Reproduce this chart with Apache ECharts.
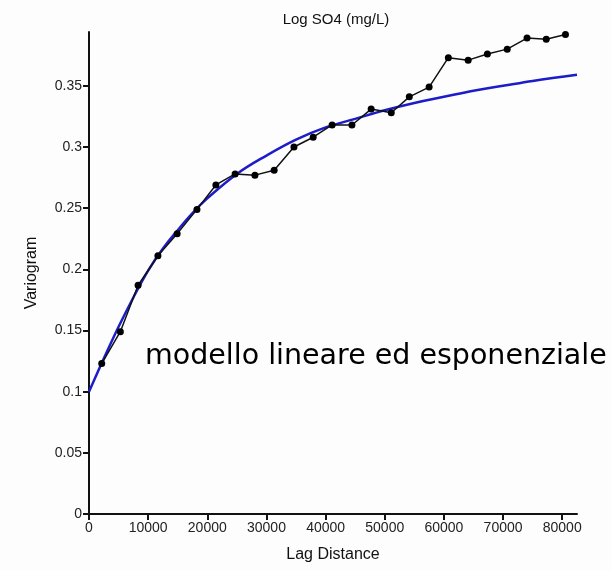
<!DOCTYPE html>
<html>
<head>
<meta charset="utf-8">
<title>Log SO4 (mg/L)</title>
<script src="https://cdn.jsdelivr.net/npm/echarts@6/dist/echarts.min.js"></script>
<style>
  html, body { margin: 0; padding: 0; background: #fdfdfd; }
  #chart { width: 612px; height: 570px; }
</style>
</head>
<body>
<div id="chart"></div>
<script>
// Experimental variogram: lag distance and semivariance
const lagDistance = [2150, 5300, 8300, 11650, 14900, 18250, 21450, 24700, 28050, 31300,
                     34650, 37900, 41100, 44450, 47700, 51100, 54150, 57500, 60750, 64100,
                     67350, 70700, 74050, 77300, 80550];
const variogram = [0.123, 0.149, 0.187, 0.211, 0.229, 0.249, 0.269, 0.278, 0.277, 0.281,
                   0.300, 0.308, 0.318, 0.318, 0.331, 0.328, 0.341, 0.349, 0.373, 0.371,
                   0.376, 0.380, 0.389, 0.388, 0.392];

// Fitted linear + exponential model, sampled along the lag axis
const modelLag = [0, 2500, 5000, 7500, 10000, 12500, 15000, 17500, 20000, 25000, 30000,
                  35000, 40000, 45000, 50000, 55000, 60000, 65000, 70000, 75000, 82500];
const modelValue = [0.100, 0.127, 0.153, 0.177, 0.199, 0.217, 0.232, 0.246, 0.258, 0.278, 0.293,
                    0.306, 0.316, 0.323, 0.330, 0.336, 0.341, 0.346, 0.350, 0.354, 0.359];

// Axis tick labels
const xTicks = [0, 10000, 20000, 30000, 40000, 50000, 60000, 70000, 80000];
const yTicks = [0, 0.05, 0.1, 0.15, 0.2, 0.25, 0.3, 0.35];

const chart = echarts.init(document.getElementById('chart'), null, { renderer: 'canvas' });

const labelFont = { fontFamily: 'Liberation Sans, Arial, sans-serif', fontSize: 14, color: '#222' };

chart.setOption({
  backgroundColor: '#fdfdfd',
  animation: false,
  title: {
    text: 'Log SO4 (mg/L)',
    left: 331,
    textAlign: 'center',
    top: 7,
    textStyle: { fontFamily: 'Liberation Sans, Arial, sans-serif', fontSize: 15, fontWeight: 'normal', color: '#111' }
  },
  grid: { left: 89, right: 35, top: 32, bottom: 56, containLabel: false, outerBoundsMode: 'none' },
  xAxis: {
    type: 'value',
    min: 0,
    max: 82500,
    interval: 10000,
    name: 'Lag Distance',
    nameLocation: 'middle',
    nameGap: 33,
    nameTextStyle: { fontFamily: 'Liberation Sans, Arial, sans-serif', fontSize: 16, color: '#111' },
    axisLine: { show: true, onZero: false, lineStyle: { color: '#111', width: 2 } },
    axisTick: { show: true, length: 6, customValues: xTicks, lineStyle: { color: '#111', width: 2 } },
    axisLabel: Object.assign({ margin: 7, customValues: xTicks, formatter: v => String(v) }, labelFont),
    splitLine: { show: false }
  },
  yAxis: {
    type: 'value',
    min: 0,
    max: 0.394,
    interval: 0.05,
    name: 'Variogram',
    nameLocation: 'middle',
    nameRotate: 90,
    nameGap: 49,
    nameTextStyle: { fontFamily: 'Liberation Sans, Arial, sans-serif', fontSize: 16, color: '#111' },
    axisLine: { show: true, onZero: false, lineStyle: { color: '#111', width: 2 } },
    axisTick: { show: true, length: 6, customValues: yTicks, lineStyle: { color: '#111', width: 2 } },
    axisLabel: Object.assign({ margin: 7, customValues: yTicks }, labelFont),
    splitLine: { show: false }
  },
  graphic: [{
    type: 'text',
    left: 145,
    top: 342,
    style: {
      text: 'modello lineare ed esponenziale',
      fontFamily: 'DejaVu Sans, sans-serif',
      fontSize: 28.5,
      fill: '#000'
    }
  }],
  series: [
    {
      name: 'modello',
      type: 'line',
      data: modelLag.map((h, i) => [h, modelValue[i]]),
      smooth: 0.4,
      showSymbol: false,
      symbol: 'none',
      lineStyle: { color: '#1c1cc8', width: 2.5 },
      z: 2
    },
    {
      name: 'variogramma',
      type: 'line',
      data: lagDistance.map((h, i) => [h, variogram[i]]),
      symbol: 'circle',
      symbolSize: 7,
      itemStyle: { color: '#000' },
      lineStyle: { color: '#111', width: 1.5 },
      z: 3
    }
  ]
});
</script>
</body>
</html>
